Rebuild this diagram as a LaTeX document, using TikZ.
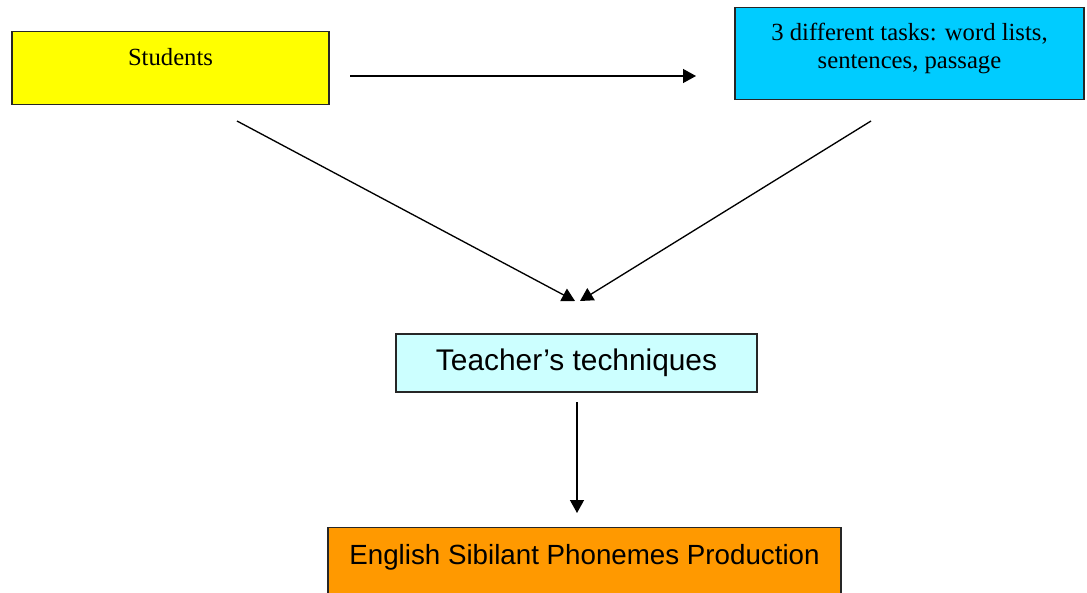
\documentclass[tikz,border=0pt]{standalone}
\usepackage{fontspec}
\setmainfont{Liberation Serif}
\newfontfamily\arialfont{Liberation Sans}
\usepackage{tikz}
\usetikzlibrary{arrows.meta, positioning}
\definecolor{boxyellow}{HTML}{FFFF00}
\definecolor{boxcyan}{HTML}{00CCFF}
\definecolor{boxpale}{HTML}{CCFFFF}
\definecolor{boxorange}{HTML}{FF9900}
\tikzstyle{block} = [draw=black!85, line width=0.9pt, rectangle, inner xsep=2pt, align=center]
\tikzstyle{serifblock} = [block, font=\fontsize{18.5}{21}\selectfont]
\tikzstyle{sansblock} = [block, font=\arialfont\fontsize{22.4}{26}\selectfont]
\tikzstyle{path} = [-{Triangle[length=9.75pt, width=10.5pt]}, line width=1pt]

\begin{document}
\begin{tikzpicture}[x=0.75pt, y=-0.75pt]
    \useasboundingbox (0,0) rectangle (1087,592);
    \node (students) [serifblock, fill=boxyellow, anchor=north, minimum width=237.75pt,
        inner ysep=0pt, text height=25.5pt, text depth=29.25pt] at (170.5,31) {Students};
    \node (tasks) [serifblock, fill=boxcyan, anchor=north, minimum width=261.75pt,
        inner ysep=0pt, text height=46pt, text depth=23pt] at (909.5,7)
        {3 different tasks: word lists,\\sentences, passage};
    \node (teacher) [sansblock, fill=boxpale, minimum width=270.75pt, minimum height=43.5pt]
        at (576.5,363) {Teacher’s techniques};
    \node (production) [sansblock, fill=boxorange, anchor=north, minimum width=384.75pt,
        inner ysep=0pt, text height=27.75pt, text depth=27pt,
        font=\arialfont\fontsize{20.8}{25}\selectfont] at (584.5,527)
        {English Sibilant Phonemes Production};

    % Free ends.
    \node (students out) [coordinate] at (350,76) {};
    \node (tasks in) [coordinate] at (696,76) {};
    \node (students down) [coordinate] at (237,121) {};
    \node (tasks down) [coordinate] at (871,121) {};
    \node (teacher in l) [coordinate] at (575,301) {};
    \node (teacher in r) [coordinate] at (580,301) {};
    \node (teacher out) [coordinate] at (577,402) {};
    \node (production in) [coordinate] at (577,513) {};

    % Arrows.
    \draw [path] (students out) -- (tasks in);
    \draw [path] (students down) -- (teacher in l);
    \draw [path] (tasks down) -- (teacher in r);
    \draw [path] (teacher out) -- (production in);
\end{tikzpicture}
\end{document}
